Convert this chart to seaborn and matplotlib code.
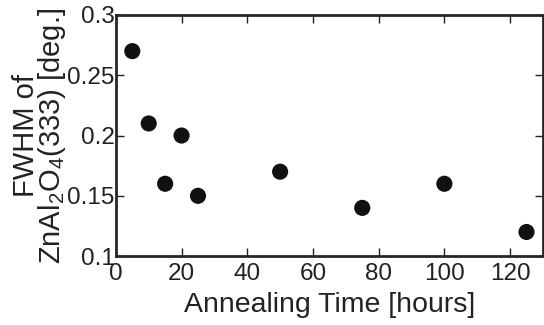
import seaborn as sns
import matplotlib.pyplot as plt
import pandas as pd

# data
hours = [5, 10, 15, 20, 25, 50, 75, 100, 125]
fwhm = [0.27, 0.21, 0.16, 0.20, 0.15, 0.17, 0.14, 0.16, 0.12]
x_ticks = [0, 20, 40, 60, 80, 100, 120]
y_ticks = [0.1, 0.15, 0.2, 0.25, 0.3]
y_tick_labels = ['0.1', '0.15', '0.2', '0.25', '0.3']

sns.set_theme(style="ticks")
plt.rcParams['font.family'] = ['Liberation Sans', 'DejaVu Sans']
plt.rcParams['mathtext.fontset'] = 'custom'
plt.rcParams['mathtext.rm'] = 'Liberation Sans'

df = pd.DataFrame({"x": hours, "y": fwhm})

fig = plt.figure(figsize=(5.44, 3.25), dpi=100)
ax = fig.add_axes([0.213, 0.212, 0.785, 0.742])
sns.scatterplot(data=df, x="x", y="y", color="#111111", s=135,
                edgecolor="none", ax=ax, zorder=3)

ax.set_xlim(0, 130)
ax.set_ylim(0.1, 0.3)
ax.set_xticks(x_ticks)
ax.set_xticklabels([str(t) for t in x_ticks], size=17.5)
ax.set_yticks(y_ticks)
ax.set_yticklabels(y_tick_labels, size=17.5)
ax.tick_params(direction='in', length=6, width=1, top=True, right=True,
               colors='#222222')
ax.tick_params(axis='x', pad=5)
ax.tick_params(axis='y', pad=1)

for axis in ['top', 'bottom', 'left', 'right']:
    ax.spines[axis].set_linewidth(2)
    ax.spines[axis].set_color('0.15')

ax.set_xlabel('Annealing Time [hours]', size=20.5, color='#222222', labelpad=5)
ax.set_ylabel('FWHM of\nZnAl$_\\mathregular{2}$O$_\\mathregular{4}$(333) [deg.]',
              size=21, color='#222222', labelpad=-1, linespacing=0.85)

plt.savefig('out.png', dpi=100)
